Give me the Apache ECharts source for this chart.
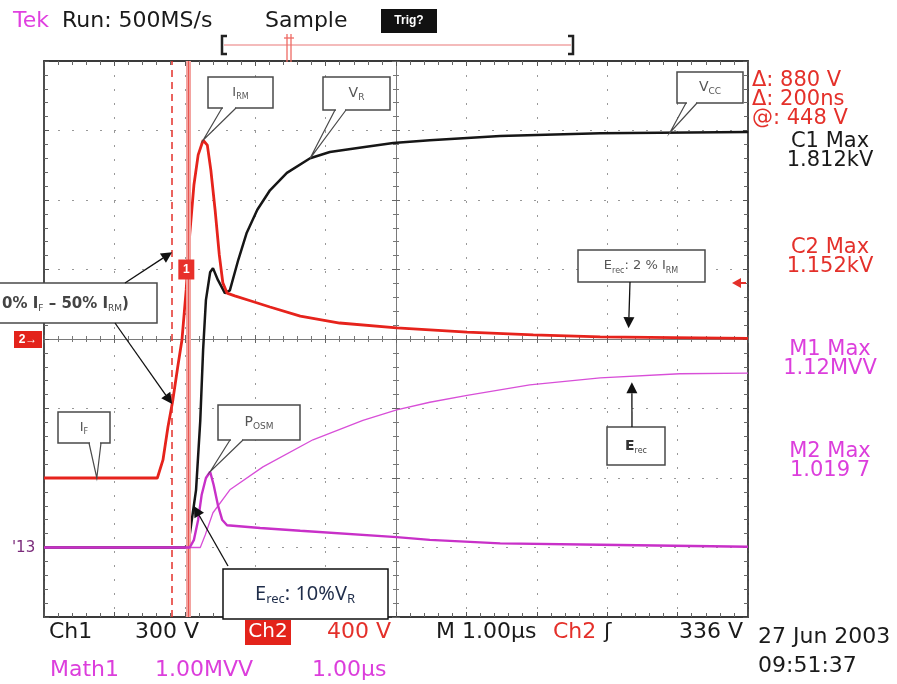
<!DOCTYPE html>
<html><head><meta charset="utf-8">
<script src="https://cdn.jsdelivr.net/npm/echarts/dist/echarts.min.js"></script>
<style>html,body{margin:0;padding:0;background:#fff}#c{width:897px;height:684px}</style>
</head><body><div id="c"></div>
<script>
// Time in µs relative to screen centre (M 1.00µs/div); vertical values in graticule divisions relative to centre.
const ch1T = [-5.00, -4.00, -3.00, -2.95, -2.90, -2.84, -2.78, -2.74, -2.70, -2.64, -2.60, -2.53, -2.43, -2.36, -2.24, -2.12, -1.97, -1.79, -1.55, -1.22, -0.94, -0.47, -0.04, 0.48, 1.48, 2.90, 5.00];
const ch1V = [-3.00, -3.00, -3.00, -2.96, -2.60, -2.17, -1.17, -0.16, 0.56, 0.96, 1.02, 0.85, 0.66, 0.70, 1.14, 1.53, 1.86, 2.14, 2.39, 2.60, 2.69, 2.76, 2.82, 2.86, 2.92, 2.96, 2.98];

const ch2T = [-5.00, -3.39, -3.31, -3.24, -3.17, -3.10, -3.04, -2.98, -2.93, -2.87, -2.81, -2.74, -2.68, -2.63, -2.57, -2.51, -2.46, -2.40, -2.29, -2.07, -1.79, -1.36, -0.80, 0.01, 1.01, 1.95, 2.90, 5.00];
const ch2V = [-2.00, -2.00, -1.74, -1.27, -0.88, -0.40, -0.01, 0.71, 1.50, 2.22, 2.65, 2.86, 2.79, 2.43, 1.86, 1.21, 0.81, 0.66, 0.62, 0.55, 0.46, 0.33, 0.23, 0.16, 0.10, 0.06, 0.03, 0.01];

const m2T = [-5.00, -2.93, -2.87, -2.81, -2.76, -2.70, -2.64, -2.59, -2.53, -2.47, -2.40, -1.93, -1.36, 0.01, 0.48, 1.48, 2.90, 5.00];
const m2V = [-3.00, -3.00, -2.89, -2.60, -2.24, -2.00, -1.91, -2.10, -2.39, -2.60, -2.68, -2.72, -2.76, -2.85, -2.89, -2.94, -2.96, -2.99];

const m1T = [-5.00, -2.78, -2.71, -2.60, -2.36, -1.89, -1.18, -0.47, 0.01, 0.48, 1.01, 1.90, 2.90, 4.03, 5.00];
const m1V = [-3.00, -3.00, -2.82, -2.50, -2.17, -1.84, -1.45, -1.17, -1.02, -0.91, -0.81, -0.66, -0.56, -0.50, -0.49];

const cursorT = [-3.18, -2.95];           // dashed and solid time cursors (µs)
const ch1MarkerV = 1.0;                    // level of the "1" channel marker
const anchorVR_T = -1.22, anchorVCC_T = 3.89, anchorIF_T = -4.25, anchorE2_T = 3.30, anchorErec_T = 3.35;
const anchor50_V = 1.25;

const RED = '#e4302a', MAG = '#dc3edc', BLK = '#161616';
const FONT = '"DejaVu Sans", sans-serif';

function pairs(t, v) { return t.map((x, i) => [x, v[i]]); }
function interp(T, V, t) {
  for (let i = 0; i < T.length - 1; i++) if (t >= T[i] && t <= T[i + 1]) return V[i] + (V[i + 1] - V[i]) * (t - T[i]) / (T[i + 1] - T[i]);
  return V[V.length - 1];
}
function crossT(T, V, level) {
  for (let i = 0; i < T.length - 1; i++) if (V[i] <= level && V[i + 1] >= level && V[i + 1] !== V[i]) return T[i] + (T[i + 1] - T[i]) * (level - V[i]) / (V[i + 1] - V[i]);
  return T[0];
}

const chart = echarts.init(document.getElementById('c'));
const frameAxis = (pos) => ({
  type: 'value', min: pos === 'top' || pos === 'bottom' ? -5 : -4, max: pos === 'top' || pos === 'bottom' ? 5 : 4, interval: 1, position: pos,
  axisLine: { show: true, onZero: false, lineStyle: { color: '#3a3a3a', width: 1.8 } },
  axisTick: { show: true, inside: true, length: 5, lineStyle: { color: '#555' } },
  minorTick: { show: true, splitNumber: 5, length: 4, lineStyle: { color: '#666' } },
  axisLabel: { show: false },
  splitLine: { show: pos === 'bottom' || pos === 'left', lineStyle: { color: '#999', type: [2, 12], width: 1 } }
});
const centreAxis = (pos, inside) => ({
  type: 'value', min: pos === 'bottom' ? -5 : -4, max: pos === 'bottom' ? 5 : 4, interval: 1, position: pos,
  axisLine: { show: true, onZero: true, onZeroAxisIndex: 0, lineStyle: { color: '#7a7a7a', width: 1 } },
  axisTick: { show: true, inside: inside, length: 4, lineStyle: { color: '#666' } },
  minorTick: { show: true, splitNumber: 5, length: 3, lineStyle: { color: '#777' } },
  axisLabel: { show: false }, splitLine: { show: false }
});

const lineSeries = (name, t, v, color, width, z) => ({
  name, type: 'line', data: pairs(t, v), showSymbol: false, symbol: 'none', z,
  lineStyle: { color, width }, animation: false
});

chart.setOption({
  animation: false,
  backgroundColor: '#fff',
  grid: { left: 44, top: 61, width: 704, height: 556 },
  xAxis: [frameAxis('bottom'), frameAxis('top'), centreAxis('bottom', true), centreAxis('bottom', false)],
  yAxis: [frameAxis('left'), frameAxis('right'), centreAxis('left', true), centreAxis('left', false)],
  series: [
    { type: 'line', data: [], z: 1, markLine: { silent: true, symbol: 'none', label: { show: false },
      data: [
        { xAxis: cursorT[1], lineStyle: { color: '#f3a3a0', width: 5, type: 'solid' } },
        { xAxis: cursorT[1], lineStyle: { color: '#e8554f', width: 1, type: 'solid' } },
        { xAxis: cursorT[0], lineStyle: { color: RED, width: 1.5, type: [7, 5] } }
      ] } },
    lineSeries('Ch1', ch1T, ch1V, BLK, 2.5, 3),
    lineSeries('Ch2', ch2T, ch2V, '#e6231c', 2.8, 4),
    lineSeries('M1', m1T, m1V, '#d84fd8', 1.3, 5),
    lineSeries('M2', m2T, m2V, '#c830c8', 2.4, 5)
  ]
});

const P = (t, v) => chart.convertToPixel({ xAxisIndex: 0, yAxisIndex: 0 }, [t, v]);
const g = [];
function txt(x, y, text, color, size, align, extra) {
  g.push(Object.assign({ type: 'text', x, y, z: 60, style: Object.assign({ text, fill: color, font: 'normal ' + size + 'px ' + FONT,
    align: align || 'left', textAlign: align || 'left', verticalAlign: 'middle', textVerticalAlign: 'middle' }, extra || {}) }));
}
function rect(x, y, w, h, fill, stroke, lw) {
  g.push({ type: 'rect', z: 55, shape: { x, y, width: w, height: h }, style: { fill: fill || 'none', stroke: stroke || null, lineWidth: lw || 0 } });
}
function line(x1, y1, x2, y2, color, lw, z) {
  g.push({ type: 'line', z: z || 56, shape: { x1, y1, x2, y2 }, style: { stroke: color, lineWidth: lw || 1 } });
}
function arrow(x1, y1, tip, gap, color) {
  const dx = tip[0] - x1, dy = tip[1] - y1, L = Math.hypot(dx, dy), ux = dx / L, uy = dy / L;
  const ex = tip[0] - ux * gap, ey = tip[1] - uy * gap, len = 11, hw = 5.5;
  const bx = ex - ux * len, by = ey - uy * len;
  line(x1, y1, bx, by, color, 1.3, 58);
  g.push({ type: 'polygon', z: 58, shape: { points: [[ex, ey], [bx - uy * hw, by + ux * hw], [bx + uy * hw, by - ux * hw]] }, style: { fill: color } });
}
function richText(x, y, text, rich, align) {
  g.push({ type: 'text', x, y, z: 60, style: { text, rich, align: align || 'center', textAlign: align || 'center', verticalAlign: 'middle', textVerticalAlign: 'middle' } });
}
const GR = '#555';
const mk = (size, weight, color) => ({ fontSize: size, fontFamily: FONT, fontWeight: weight || 'normal', fill: color || GR, color: color || GR, lineHeight: size + 4 });
const sub = (size, color) => ({ fontSize: size, fontFamily: FONT, fill: color || GR, color: color || GR, verticalAlign: 'bottom', lineHeight: size + 2 });
function callout(bx, by, bw, bh, b1, b2, tip, text, rich) {
  rect(bx, by, bw, bh, '#fff', '#4a4a4a', 1.5);
  line(b1 + 1, by + bh, b2 - 1, by + bh, '#fff', 2.5, 57);
  g.push({ type: 'polyline', z: 57, shape: { points: [[b1, by + bh], tip, [b2, by + bh]] }, style: { stroke: '#4a4a4a', lineWidth: 1.2, fill: null } });
  richText(bx + bw / 2, by + bh / 2, text, rich);
}

// header
txt(13, 21, 'Tek', '#e040e0', 22);
txt(62, 21, 'Run: 500MS/s', '#1a1a1a', 22);
txt(265, 21, 'Sample', '#1a1a1a', 22);
rect(381, 9, 56, 24, '#111');
txt(409, 21, 'Trig?', '#fff', 17, 'center', { fontWeight: 'bold' });
// record bracket and trigger position
line(224, 45, 571, 45, '#f0a4a4', 1.5);
g.push({ type: 'polyline', z: 56, shape: { points: [[227, 36], [222, 36], [222, 54], [227, 54]] }, style: { stroke: '#222', lineWidth: 2.5, fill: null } });
g.push({ type: 'polyline', z: 56, shape: { points: [[568, 36], [573, 36], [573, 54], [568, 54]] }, style: { stroke: '#222', lineWidth: 2.5, fill: null } });
line(287, 34, 287, 62, '#ee6a64', 1.3); line(291, 34, 291, 62, '#ee6a64', 1.3); line(284, 38, 294, 38, '#ee6a64', 1.3);

// right readouts
txt(752, 81, 'Δ: 880 V', RED, 21);
txt(752, 100, 'Δ: 200ns', RED, 21);
txt(752, 119, '@: 448 V', RED, 21);
txt(830, 142, 'C1 Max', '#1a1a1a', 21, 'center');
txt(830, 161, '1.812kV', '#1a1a1a', 21, 'center');
txt(830, 248, 'C2 Max', RED, 21, 'center');
txt(830, 267, '1.152kV', RED, 21, 'center');
txt(830, 350, 'M1 Max', MAG, 21, 'center');
txt(830, 369, '1.12MVV', MAG, 21, 'center');
txt(830, 452, 'M2 Max', MAG, 21, 'center');
txt(830, 471, '1.019 7', MAG, 21, 'center');

// bottom readouts
txt(49, 632, 'Ch1', '#1a1a1a', 22);
txt(135, 632, '300 V', '#1a1a1a', 22);
rect(245, 620, 46, 25, '#e3231b');
txt(268, 632, 'Ch2', '#fff', 20, 'center');
txt(327, 632, '400 V', RED, 22);
txt(436, 632, 'M 1.00µs', '#1a1a1a', 22);
txt(553, 632, 'Ch2', RED, 22);
txt(604, 632, 'ʃ', '#1a1a1a', 22);
txt(679, 632, '336 V', '#1a1a1a', 22);
txt(758, 637, '27 Jun 2003', '#1a1a1a', 22);
txt(758, 666, '09:51:37', '#1a1a1a', 22);
txt(50, 670, 'Math1', MAG, 22);
txt(155, 670, '1.00MVV', MAG, 22);
txt(312, 670, '1.00µs', MAG, 22);

// channel markers
rect(14, 331, 28, 17, '#e3231b');
txt(28, 340, '2→', '#fff', 13, 'center', { fontWeight: 'bold' });
txt(12, 548, "'13", '#7a2a7a', 15);
g.push({ type: 'polygon', z: 58, shape: { points: [[732, 283], [741, 278], [741, 288]] }, style: { fill: RED } });
line(740, 283, 746, 283, RED, 2);
const m1p = P(cursorT[1], ch1MarkerV);
rect(m1p[0] - 10, m1p[1] - 10, 16, 20, '#e8302a');
txt(m1p[0] - 2, m1p[1], '1', '#fff', 13, 'center', { fontWeight: 'bold' });

// callouts
const iPk = ch2V.indexOf(Math.max(...ch2V));
const tipIRM = P(ch2T[iPk], ch2V[iPk]);
callout(208, 77, 65, 31, 222, 236, tipIRM, '{m|I}{s|RM}', { m: mk(13), s: sub(8) });
callout(323, 77, 67, 33, 335, 346, P(anchorVR_T, interp(ch1T, ch1V, anchorVR_T)), '{m|V}{s|R}', { m: mk(14), s: sub(9) });
callout(677, 72, 66, 31, 686, 697, P(anchorVCC_T, interp(ch1T, ch1V, anchorVCC_T)), '{m|V}{s|CC}', { m: mk(14), s: sub(9) });
callout(58, 412, 52, 31, 89, 101, P(anchorIF_T, interp(ch2T, ch2V, anchorIF_T)), '{m|I}{s|F}', { m: mk(13), s: sub(8) });
const iP2 = m2V.indexOf(Math.max(...m2V));
callout(218, 405, 82, 35, 230, 243, P(m2T[iP2], m2V[iP2]), '{m|P}{s|OSM}', { m: mk(14), s: sub(9) });

rect(578, 250, 127, 32, '#fff', '#4a4a4a', 1.5);
richText(641, 266, '{m|E}{s|rec}{m|: 2 % I}{s|RM}', { m: mk(13), s: sub(8) });
arrow(630, 282, P(anchorE2_T, interp(ch2T, ch2V, anchorE2_T)), 9, '#111');

rect(607, 427, 58, 38, '#fff', '#4a4a4a', 1.5);
richText(636, 446, '{m|E}{s|rec}', { m: mk(14, 'bold', '#333'), s: sub(8, '#444') });
arrow(632, 427, P(anchorErec_T, interp(m1T, m1V, anchorErec_T)), 6, '#111');

rect(-5, 283, 162, 40, '#fff', '#4a4a4a', 1.5);
richText(2, 304, '{m|0% I}{s|F}{m| – 50% I}{s|RM}{m|)}', { m: mk(15, 'bold', '#444'), s: sub(9, '#444') }, 'left');
arrow(125, 283, P(cursorT[0], anchor50_V), 0, '#111');
arrow(115, 323, P(cursorT[0], interp(ch2T, ch2V, cursorT[0])), 0, '#111');

const base = ch1V[0], fin = ch1V[ch1V.length - 1];
const lvl10 = base + 0.1 * (fin - base);
const tip10 = P(crossT(ch1T, ch1V, lvl10), lvl10);
rect(223, 569, 165, 50, '#fff', '#111', 1.5);
arrow(228, 566, tip10, 0, '#111');
richText(305, 594, '{m|E}{s|rec}{m|: 10%V}{s|R}', {
  m: { fontSize: 20, fontFamily: '"Noto Sans", sans-serif', fill: '#1f2d4a', color: '#1f2d4a', lineHeight: 24 },
  s: { fontSize: 13, fontFamily: '"Noto Sans", sans-serif', fill: '#1f2d4a', color: '#1f2d4a', verticalAlign: 'bottom', lineHeight: 17 }
});

chart.setOption({ graphic: { elements: g } });
</script></body></html>
